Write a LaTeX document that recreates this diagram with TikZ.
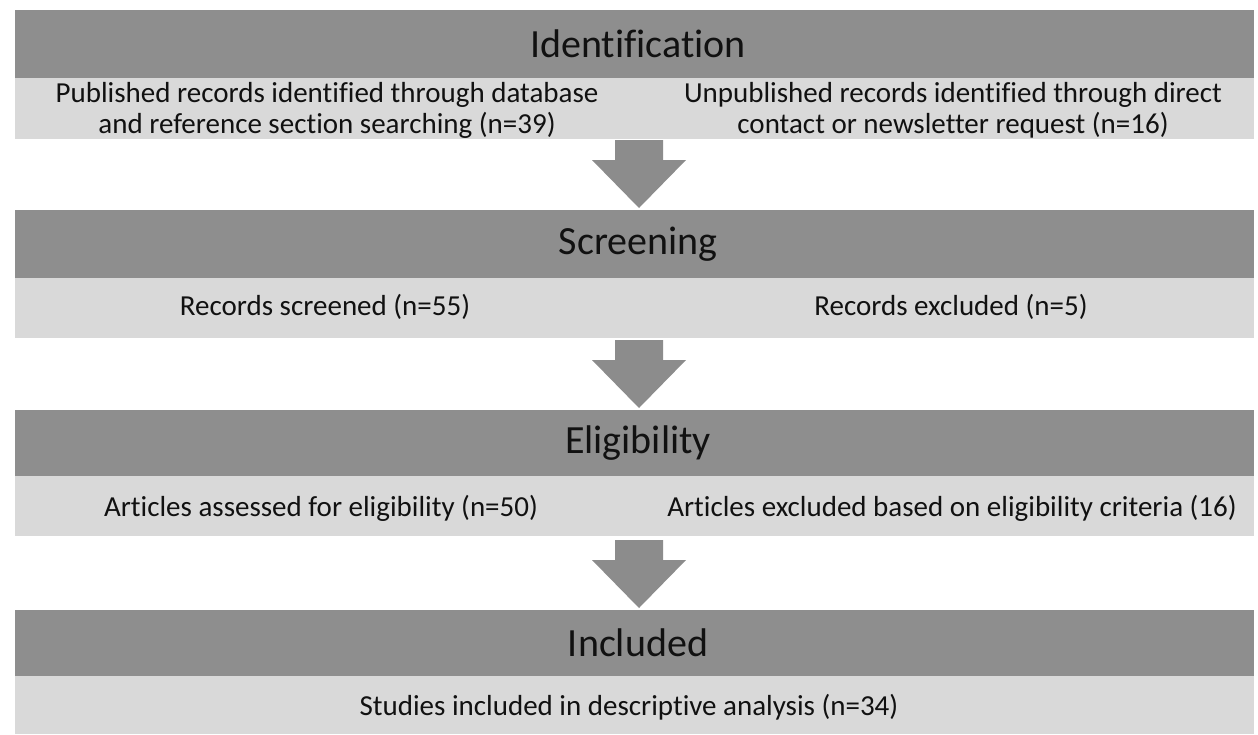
\documentclass[tikz,border=0pt]{standalone}
\usepackage{fontspec}
\setmainfont{Carlito}[Ligatures=NoCommon]
\definecolor{darkband}{HTML}{8E8E8E}
\definecolor{lightband}{HTML}{D9D9D9}
\definecolor{arrowgray}{HTML}{8C8C8C}
\definecolor{txt}{HTML}{111111}
\tikzset{
  darkbar/.style={fill=darkband, draw=none},
  lightbar/.style={fill=lightband, draw=none},
  title/.style={font=\fontsize{40}{46}\selectfont, text=txt, inner sep=0pt},
  rowtext/.style={font=\fontsize{29}{31}\selectfont, text=txt, inner sep=0pt, align=center},
  downarrow/.style={fill=arrowgray, draw=none}
}
\begin{document}
\begin{tikzpicture}[x=1pt,y=-1pt]
\useasboundingbox (0,0) rectangle (1258,734);
\fill[white] (0,0) rectangle (1258,734);
% bands
\foreach \top/\mid/\bot in {10/78/139, 210/278/338, 410/476/536, 610/676/734}{
  \fill[darkbar] (15,\top) rectangle (1254,\mid);
  \fill[lightbar] (15,\mid) rectangle (1254,\bot);
}
% arrows
\foreach \t in {140, 340, 540}{
  \fill[downarrow] (615,\t) -- (663,\t) -- (663,\t+20) -- (686,\t+20) -- (639,\t+68) -- (592,\t+20) -- (615,\t+20) -- cycle;
}
% titles
\node[title] (t1) at (638,44) {Identification};
\node[title] (t2) at (638,244) {Screening};
\node[title] (t3) at (638,443) {Eligibility};
\node[title] (t4) at (638,643) {Included};
% rows
\node[rowtext] (r1a) at (327,110) {Published records identified through database\\and reference section searching (n=39)};
\node[rowtext] (r1b) at (953,110) {Unpublished records identified through direct\\contact or newsletter request (n=16)};
\node[rowtext] (r2a) at (325,307) {Records screened (n=55)};
\node[rowtext] (r2b) at (951,307) {Records excluded (n=5)};
\node[rowtext] (r3a) at (321,508) {Articles assessed for eligibility (n=50)};
\node[rowtext] (r3b) at (952,508) {Articles excluded based on eligibility criteria (16)};
\node[rowtext] (r4) at (629,707) {Studies included in descriptive analysis (n=34)};
\end{tikzpicture}
\end{document}
